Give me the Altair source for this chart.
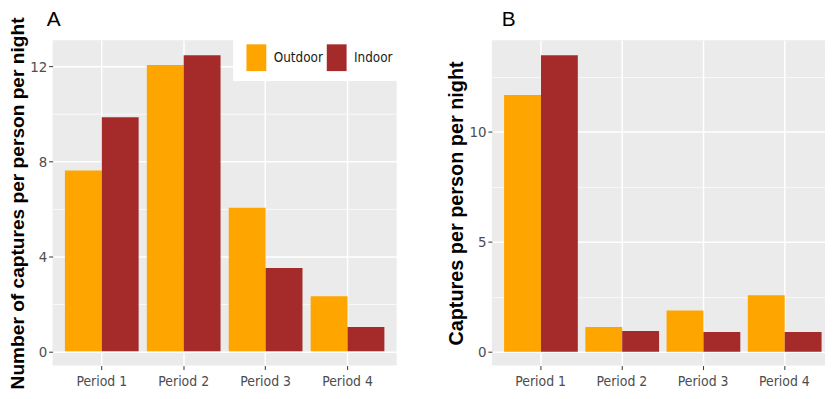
import altair as alt
import pandas as pd

periods = ["Period 1", "Period 2", "Period 3", "Period 4"]
groups = ["Outdoor", "Indoor"]
colors = ["#FFA500", "#A52A2A"]
panel_labels = ["A", "B"]

a_outdoor = [7.62, 12.06, 6.05, 2.32]
a_indoor = [9.86, 12.47, 3.51, 1.02]
b_outdoor = [11.67, 1.12, 1.87, 2.57]
b_indoor = [13.47, 0.94, 0.90, 0.90]

a_ticks = [0, 2, 4, 6, 8, 10, 12]
b_ticks = [0, 2.5, 5, 7.5, 10, 12.5]


def make_df(outdoor, indoor):
    rows = []
    for p, o, i in zip(periods, outdoor, indoor):
        rows.append({"period": p, "group": "Outdoor", "value": o})
        rows.append({"period": p, "group": "Indoor", "value": i})
    return pd.DataFrame(rows)


NARROW = "'Liberation Sans Narrow', 'Arial Narrow', 'DejaVu Sans Condensed', Roboto, sans-serif"
SANS = "Liberation Sans"


def panel(df, domain, ticks, major_test, ytitle, title_size, label, dx, width, xscale, legend):
    yaxis = alt.Axis(
        title=ytitle,
        values=ticks,
        labelExpr=f"({major_test}) ? datum.label : ''",
        titleFont=SANS, titleFontSize=title_size, titleFontWeight="bold", titleColor="#000000",
        titlePadding=2,
        labelFont=NARROW, labelFontSize=15, labelColor="#4D4D4D", labelPadding=2,
        domain=False,
        tickSize=4, tickColor="#333333",
        tickOpacity={"condition": {"test": major_test, "value": 1}, "value": 0},
        grid=True, gridColor="#FFFFFF",
        gridWidth={"condition": {"test": major_test, "value": 1.5}, "value": 0.7},
    )
    xaxis = alt.Axis(
        title=None, labelAngle=0,
        labelFont=NARROW, labelFontSize=14, labelColor="#4D4D4D", labelPadding=5,
        domain=False, tickSize=4, tickColor="#333333",
        grid=True, gridColor="#FFFFFF", gridWidth=1.5,
    )
    bars = alt.Chart(df).mark_bar().encode(
        x=alt.X("period:N", sort=periods, scale=xscale, axis=xaxis),
        xOffset=alt.XOffset("group:N", sort=groups,
                            scale=alt.Scale(paddingInner=0, paddingOuter=0.111)),
        y=alt.Y("value:Q", scale=alt.Scale(domain=domain, nice=False, zero=False), axis=yaxis),
        color=alt.Color("group:N", sort=groups,
                        scale=alt.Scale(domain=groups, range=colors), legend=legend),
    )
    tag = alt.Chart(pd.DataFrame({"label": [label]})).mark_text(
        align="left", baseline="alphabetic", font=SANS, fontSize=21, color="#000000"
    ).encode(
        x=alt.value(dx), y=alt.value(-14), text="label:N"
    )
    return alt.layer(bars, tag).properties(width=width, height=328)


legend = alt.Legend(
    title=None, orient="none", direction="horizontal",
    legendX=182, legendY=-6, padding=10, fillColor="#FFFFFF",
    symbolType="M-0.74,-1L0.74,-1L0.74,1L-0.74,1Z", symbolSize=729,
    symbolStrokeWidth=0, symbolOpacity=1,
    labelFont=NARROW, labelFontSize=13.5, labelColor="#1A1A1A",
    labelOffset=4, columnPadding=0,
)

chart_a = panel(make_df(a_outdoor, a_indoor), [-0.6, 13.1], a_ticks,
                "datum.value % 4 === 0", "Number of captures per person per night", 19.3,
                panel_labels[0], -6, 347,
                alt.Scale(paddingInner=0, paddingOuter=0.1), legend)

chart_b = panel(make_df(b_outdoor, b_indoor), [-0.63, 14.15], b_ticks,
                "datum.value % 5 === 0", "Captures per person per night", 20,
                panel_labels[1], 10, 336,
                alt.Scale(paddingInner=0, paddingOuter=0.05, align=1), None)

chart = alt.hconcat(chart_a, chart_b, spacing=96, bounds="flush").properties(
    padding=0
).configure_view(fill="#EBEBEB", stroke=None)

chart.save("out.html", embed_options={"renderer": "svg", "actions": False})
